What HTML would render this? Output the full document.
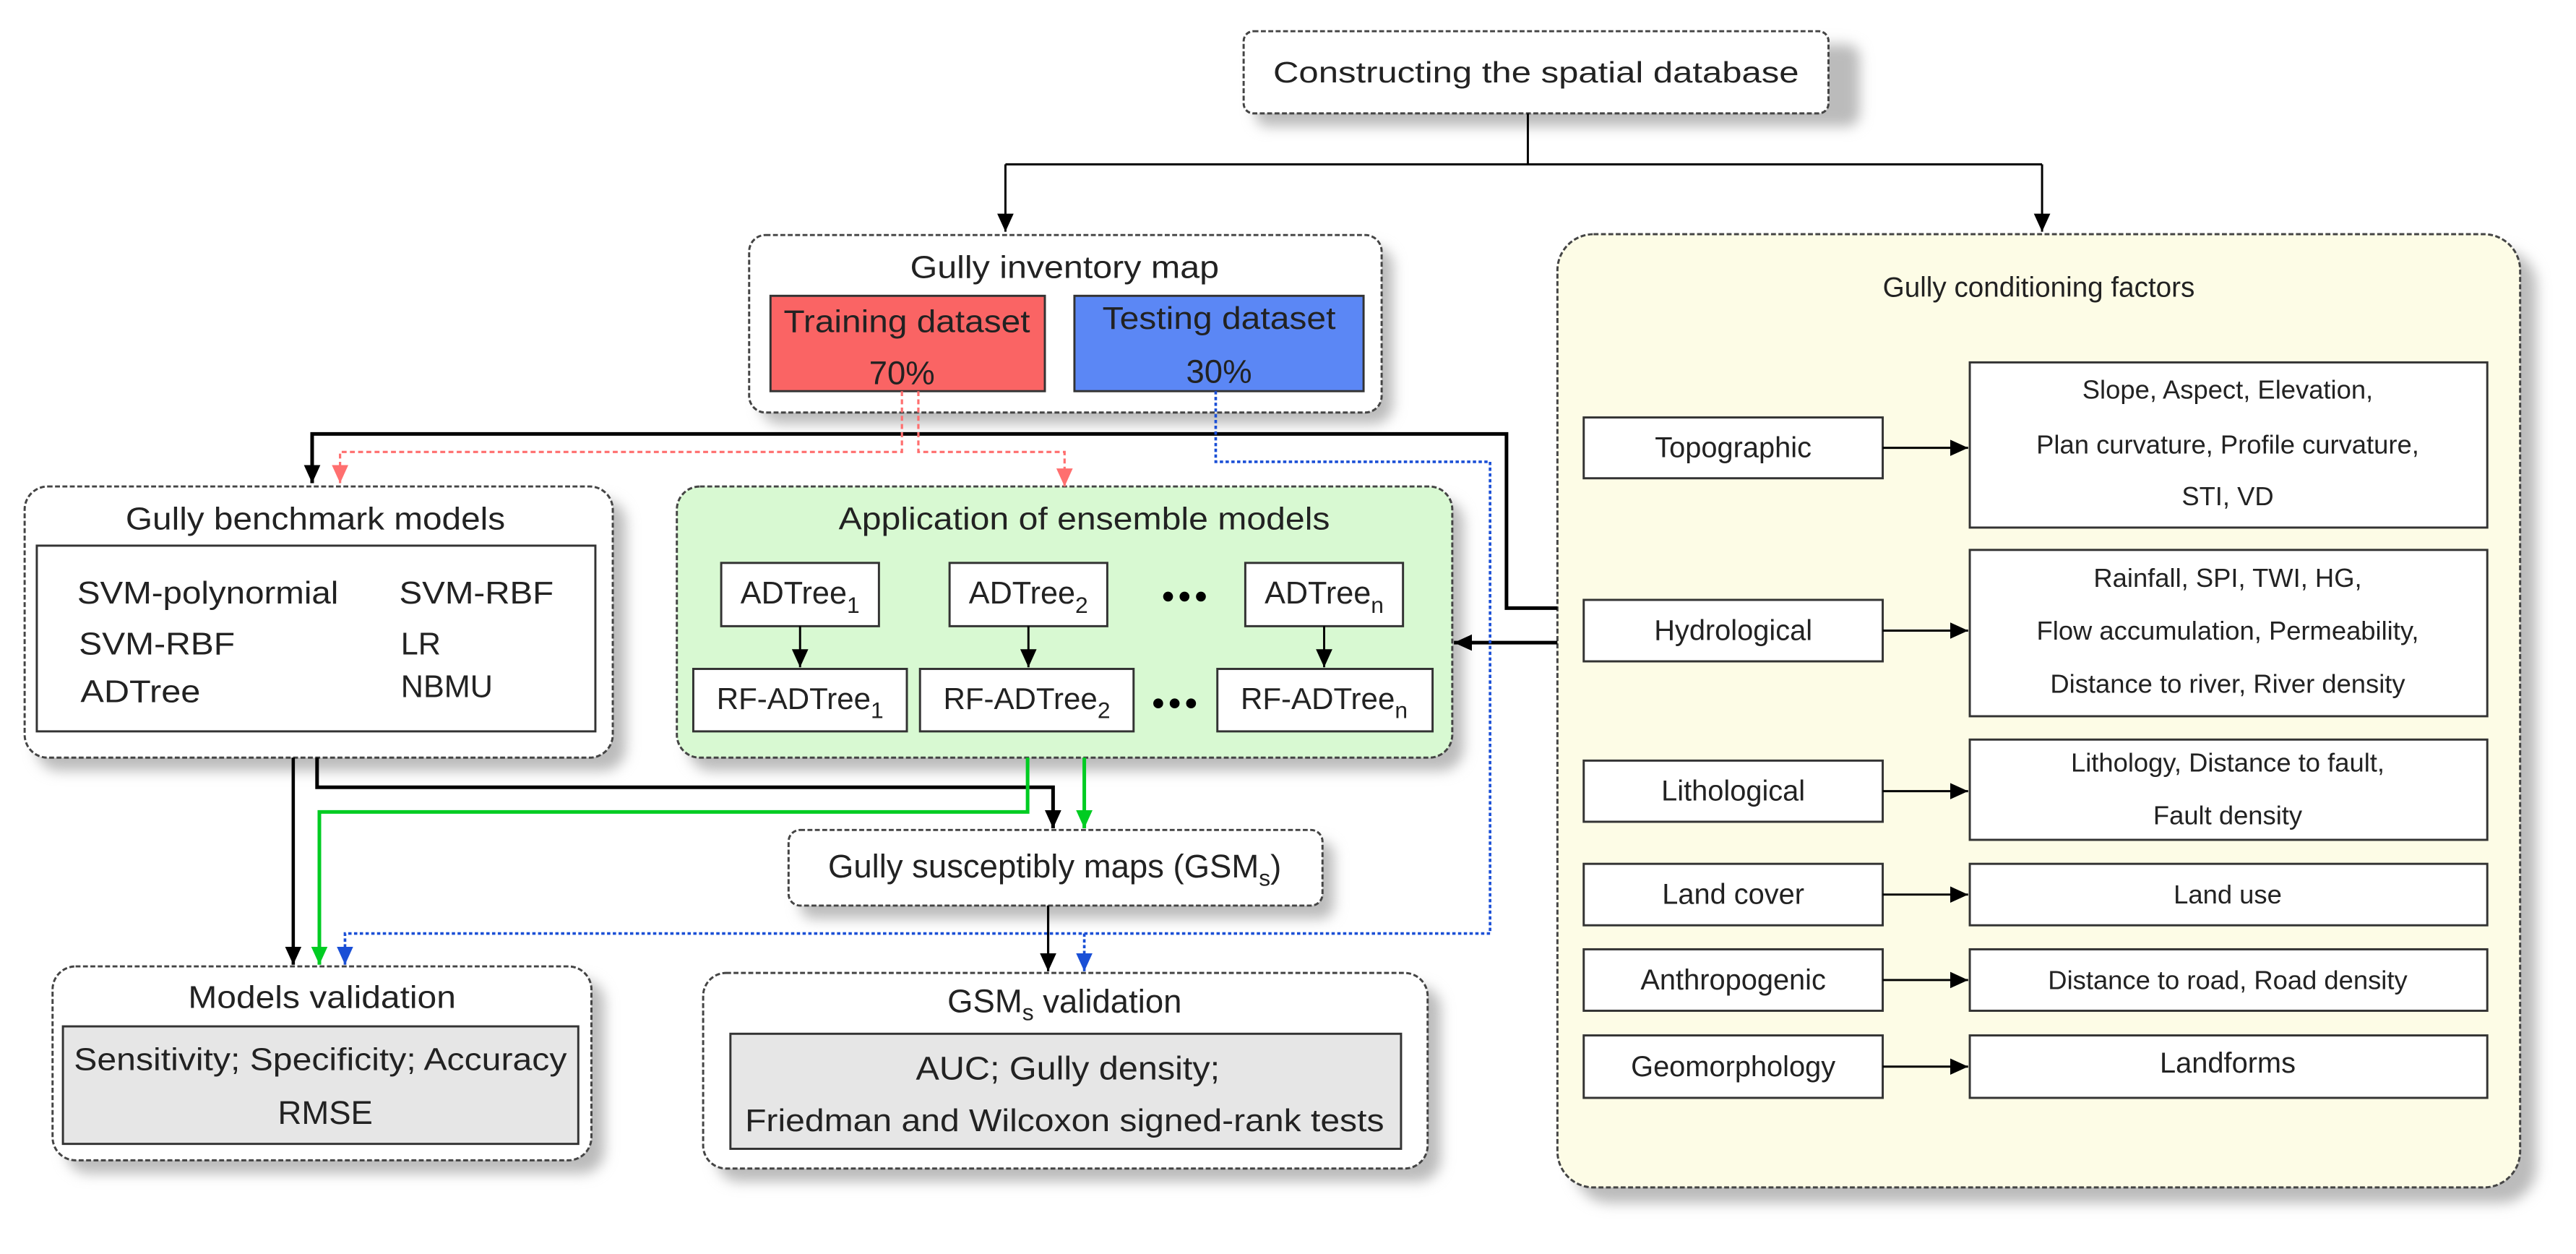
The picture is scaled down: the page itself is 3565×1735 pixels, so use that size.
<!DOCTYPE html>
<html><head><meta charset="utf-8"><style>
html,body{margin:0;padding:0;background:#fff;}
svg{display:block;}
text{font-family:"Liberation Sans",sans-serif;fill:#222;}
</style></head><body>
<svg width="3565" height="1735" viewBox="0 0 1568 763" preserveAspectRatio="none" xmlns="http://www.w3.org/2000/svg">
<defs>
<filter id="sh" x="-10%" y="-10%" width="130%" height="140%"><feGaussianBlur stdDeviation="4"/></filter>
<marker id="ab" markerUnits="userSpaceOnUse" markerWidth="14" markerHeight="14" refX="11" refY="5" orient="auto"><path d="M0,0 L11,5 L0,10 Z" fill="#000"/></marker>
<marker id="ar" markerUnits="userSpaceOnUse" markerWidth="14" markerHeight="14" refX="11" refY="5" orient="auto"><path d="M0,0 L11,5 L0,10 Z" fill="#ff6f6f"/></marker>
<marker id="abl" markerUnits="userSpaceOnUse" markerWidth="14" markerHeight="14" refX="11" refY="5" orient="auto"><path d="M0,0 L11,5 L0,10 Z" fill="#1a4fd6"/></marker>
<marker id="ag" markerUnits="userSpaceOnUse" markerWidth="14" markerHeight="14" refX="11" refY="5" orient="auto"><path d="M0,0 L11,5 L0,10 Z" fill="#00cc22"/></marker>
</defs>

<g fill="#bbb" filter="url(#sh)">
<rect x="764" y="27" width="368" height="50" rx="8"/>
<rect x="463" y="150" width="385" height="108" rx="12"/>
<rect x="22" y="304" width="359" height="165" rx="14"/>
<rect x="419" y="304" width="472" height="165" rx="14"/>
<rect x="487" y="512" width="325" height="47" rx="8"/>
<rect x="40" y="596" width="328" height="118" rx="14"/>
<rect x="436" y="600" width="441" height="119" rx="14"/>
<rect x="958" y="152" width="586" height="580" rx="22"/>
</g>

<g stroke="#444" stroke-width="1.3" stroke-dasharray="3,1.5">
<rect x="757" y="19" width="356" height="50" rx="6" fill="#fff"/>
<rect x="456" y="143" width="385" height="108" rx="10" fill="#fff"/>
<rect x="15" y="296" width="358" height="165" rx="14" fill="#fff"/>
<rect x="412" y="296" width="472" height="165" rx="14" fill="#d8f9d2"/>
<rect x="480" y="505" width="325" height="46" rx="7" fill="#fff"/>
<rect x="32" y="588" width="328" height="118" rx="14" fill="#fff"/>
<rect x="428" y="592" width="441" height="119" rx="14" fill="#fff"/>
<rect x="948" y="142.5" width="586" height="580" rx="22" fill="#fdfce6"/>
</g>

<g stroke="#333" stroke-width="1.3">
<rect x="469" y="180" width="167" height="58" fill="#fa6464"/>
<rect x="654" y="180" width="176" height="58" fill="#5b87f5"/>
<rect x="22.4" y="332" width="340" height="113" fill="#fff"/>
<rect x="439" y="342.5" width="96" height="38.5" fill="#fff"/>
<rect x="578" y="342.5" width="96" height="38.5" fill="#fff"/>
<rect x="758" y="342.5" width="96" height="38.5" fill="#fff"/>
<rect x="422" y="407" width="130" height="38" fill="#fff"/>
<rect x="560" y="407" width="130" height="38" fill="#fff"/>
<rect x="741" y="407" width="131" height="38" fill="#fff"/>
<rect x="38.3" y="624.5" width="313.7" height="71.5" fill="#e6e6e6"/>
<rect x="444.6" y="629" width="408.2" height="70" fill="#e6e6e6"/>
<rect x="964" y="254" width="182" height="37" fill="#fff"/>
<rect x="1199" y="220.5" width="315" height="100.5" fill="#fff"/>
<rect x="964" y="365" width="182" height="37.4" fill="#fff"/>
<rect x="1199" y="334.6" width="315" height="101.2" fill="#fff"/>
<rect x="964" y="462.8" width="182" height="37.2" fill="#fff"/>
<rect x="1199" y="450" width="315" height="61" fill="#fff"/>
<rect x="964" y="525.6" width="182" height="37.4" fill="#fff"/>
<rect x="1199" y="525.6" width="315" height="37.4" fill="#fff"/>
<rect x="964" y="577.6" width="182" height="37.4" fill="#fff"/>
<rect x="1199" y="577.6" width="315" height="37.4" fill="#fff"/>
<rect x="964" y="630" width="182" height="38" fill="#fff"/>
<rect x="1199" y="630" width="315" height="38" fill="#fff"/>
</g>

<g fill="none">
<path d="M930,69 V100 M612,100 H1243" stroke="#000" stroke-width="1.3"/>
<path d="M612,100 V141" stroke="#000" stroke-width="1.3" marker-end="url(#ab)"/>
<path d="M1243,100 V141" stroke="#000" stroke-width="1.3" marker-end="url(#ab)"/>
<path d="M948,370 H917 V264 H190 V294" stroke="#000" stroke-width="2.2" marker-end="url(#ab)"/>
<path d="M948,391 H885" stroke="#000" stroke-width="2.2" marker-end="url(#ab)"/>
<path d="M549,238 V275 H207 V294" stroke="#ff6f6f" stroke-width="1.4" stroke-dasharray="3,2" marker-end="url(#ar)"/>
<path d="M559,238 V275 H648 V296" stroke="#ff6f6f" stroke-width="1.4" stroke-dasharray="3,2" marker-end="url(#ar)"/>
<path d="M740,238 V281 H907 V568 H210 V587" stroke="#1a4fd6" stroke-width="1.6" stroke-dasharray="2,1.5" marker-end="url(#abl)"/>
<path d="M660,568 V591" stroke="#1a4fd6" stroke-width="1.6" stroke-dasharray="2,1.5" marker-end="url(#abl)"/>
<path d="M178.5,461 V587" stroke="#000" stroke-width="2" marker-end="url(#ab)"/>
<path d="M193,461 V479 H641 V504" stroke="#000" stroke-width="2.2" marker-end="url(#ab)"/>
<path d="M625.5,461 V494 H194.4 V587" stroke="#00cc22" stroke-width="2.2" marker-end="url(#ag)"/>
<path d="M660,461 V504" stroke="#00cc22" stroke-width="2.2" marker-end="url(#ag)"/>
<path d="M638,551 V591" stroke="#000" stroke-width="1.4" marker-end="url(#ab)"/>
<path d="M487,381 V406" stroke="#000" stroke-width="1.3" marker-end="url(#ab)"/>
<path d="M626,381 V406" stroke="#000" stroke-width="1.3" marker-end="url(#ab)"/>
<path d="M806,381 V406" stroke="#000" stroke-width="1.3" marker-end="url(#ab)"/>
<path d="M1146,272.5 H1198" stroke="#000" stroke-width="1.3" marker-end="url(#ab)"/>
<path d="M1146,383.7 H1198" stroke="#000" stroke-width="1.3" marker-end="url(#ab)"/>
<path d="M1146,481.4 H1198" stroke="#000" stroke-width="1.3" marker-end="url(#ab)"/>
<path d="M1146,544.3 H1198" stroke="#000" stroke-width="1.3" marker-end="url(#ab)"/>
<path d="M1146,596.3 H1198" stroke="#000" stroke-width="1.3" marker-end="url(#ab)"/>
<path d="M1146,649 H1198" stroke="#000" stroke-width="1.3" marker-end="url(#ab)"/>
</g>

<g fill="#000">
<circle cx="711" cy="363" r="3"/><circle cx="721" cy="363" r="3"/><circle cx="731" cy="363" r="3"/>
<circle cx="705" cy="428" r="3"/><circle cx="715" cy="428" r="3"/><circle cx="725" cy="428" r="3"/>
</g>

<g dominant-baseline="central" text-anchor="middle">
<text x="935" y="44" font-size="18" textLength="320" lengthAdjust="spacingAndGlyphs">Constructing the spatial database</text>
<text x="648" y="163" font-size="19" textLength="188" lengthAdjust="spacingAndGlyphs">Gully inventory map</text>
<text x="552" y="196" font-size="19" textLength="150" lengthAdjust="spacingAndGlyphs">Training dataset</text>
<text x="549" y="227" font-size="20">70%</text>
<text x="742" y="194" font-size="19" textLength="142" lengthAdjust="spacingAndGlyphs">Testing dataset</text>
<text x="742" y="226" font-size="20">30%</text>
<text x="192" y="316" font-size="19" textLength="231" lengthAdjust="spacingAndGlyphs">Gully benchmark models</text>
<text x="660" y="316" font-size="19" textLength="299" lengthAdjust="spacingAndGlyphs">Application of ensemble models</text>
<text x="487" y="361" font-size="19">ADTree<tspan font-size="14" dy="7">1</tspan></text>
<text x="626" y="361" font-size="19">ADTree<tspan font-size="14" dy="7">2</tspan></text>
<text x="806" y="361" font-size="19">ADTree<tspan font-size="14" dy="7">n</tspan></text>
<text x="487" y="425" font-size="18.5">RF-ADTree<tspan font-size="14" dy="7">1</tspan></text>
<text x="625" y="425" font-size="18.5">RF-ADTree<tspan font-size="14" dy="7">2</tspan></text>
<text x="806" y="425" font-size="18.5">RF-ADTree<tspan font-size="14" dy="7">n</tspan></text>
<text x="642" y="527" font-size="20">Gully susceptibly maps (GSM<tspan font-size="14" dy="7">s</tspan><tspan dy="-7">)</tspan></text>
<text x="196" y="607" font-size="19" textLength="163" lengthAdjust="spacingAndGlyphs">Models validation</text>
<text x="195" y="645" font-size="19" textLength="300" lengthAdjust="spacingAndGlyphs">Sensitivity; Specificity; Accuracy</text>
<text x="198" y="677" font-size="20">RMSE</text>
<text x="648" y="609" font-size="20">GSM<tspan font-size="14" dy="7">s</tspan><tspan dy="-7"> validation</tspan></text>
<text x="650" y="650" font-size="20" textLength="185" lengthAdjust="spacingAndGlyphs">AUC; Gully density;</text>
<text x="648" y="682" font-size="19" textLength="389" lengthAdjust="spacingAndGlyphs">Friedman and Wilcoxon signed-rank tests</text>
</g>
<g dominant-baseline="central" font-size="19">
<text x="47" y="361" textLength="159" lengthAdjust="spacingAndGlyphs">SVM-polynormial</text>
<text x="48" y="392" textLength="95" lengthAdjust="spacingAndGlyphs">SVM-RBF</text>
<text x="49" y="421" textLength="73" lengthAdjust="spacingAndGlyphs">ADTree</text>
<text x="243" y="361" textLength="94" lengthAdjust="spacingAndGlyphs">SVM-RBF</text>
<text x="244" y="392">LR</text>
<text x="244" y="418">NBMU</text>
</g>
<g dominant-baseline="central" text-anchor="middle" font-size="16">
<text x="1241" y="175" font-size="17">Gully conditioning factors</text>
<text x="1055" y="272.5" font-size="17.5">Topographic</text>
<text x="1055" y="383.7" font-size="17.5">Hydrological</text>
<text x="1055" y="481.4" font-size="17.5">Lithological</text>
<text x="1055" y="544.3" font-size="17.5">Land cover</text>
<text x="1055" y="596.3" font-size="17.5">Anthropogenic</text>
<text x="1055" y="649" font-size="17.5">Geomorphology</text>
<text x="1356" y="237">Slope, Aspect, Elevation,</text>
<text x="1356" y="270.5">Plan curvature, Profile curvature,</text>
<text x="1356" y="302">STI, VD</text>
<text x="1356" y="351.5">Rainfall, SPI, TWI, HG,</text>
<text x="1356" y="383.6">Flow accumulation, Permeability,</text>
<text x="1356" y="416">Distance to river, River density</text>
<text x="1356" y="464">Lithology, Distance to fault,</text>
<text x="1356" y="496">Fault density</text>
<text x="1356" y="544.3">Land use</text>
<text x="1356" y="596.3">Distance to road, Road density</text>
<text x="1356" y="647" font-size="17.5">Landforms</text>
</g>
</svg>
</body></html>
